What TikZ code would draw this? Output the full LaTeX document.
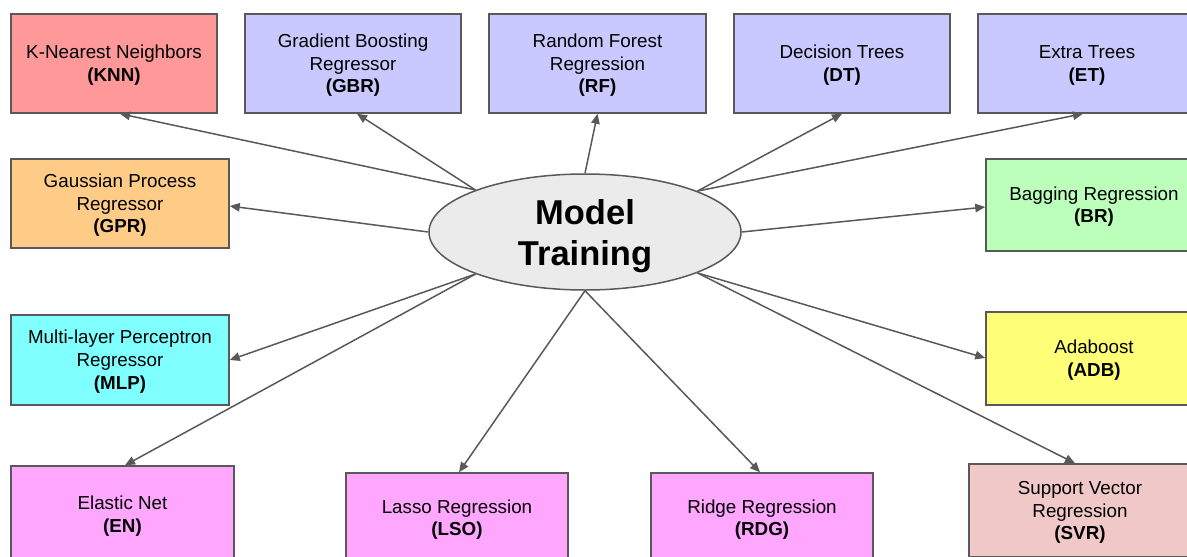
\documentclass[tikz,border=0pt]{standalone}
\usepackage{fontspec}
\setmainfont{Liberation Sans}
\usetikzlibrary{arrows.meta,shapes.geometric,calc}
\definecolor{edgegray}{HTML}{595959}
\definecolor{cKNN}{HTML}{FF9999}
\definecolor{cBlue}{HTML}{C9C9FF}
\definecolor{cGPR}{HTML}{FFCC88}
\definecolor{cBR}{HTML}{BBFFBB}
\definecolor{cMLP}{HTML}{80FFFF}
\definecolor{cADB}{HTML}{FFFF77}
\definecolor{cPink}{HTML}{FFA6FF}
\definecolor{cSVR}{HTML}{F0C8C8}
\definecolor{cMT}{HTML}{EBEBEB}
\newcommand{\boxtxt}[1]{\raisebox{-2pt}[\height][\depth]{\begin{tabular}{@{}c@{}}#1\end{tabular}}}
\tikzset{
  box/.style={draw=edgegray, line width=1.5pt, rectangle, inner sep=0pt,
    font=\fontsize{18.8}{22.7}\selectfont, text=black},
  hub/.style={draw=edgegray, line width=1.5pt, ellipse, fill=cMT, inner sep=0pt,
    minimum width=312pt, minimum height=116pt},
  hubtext/.style={align=center, inner sep=0pt, text=black,
    font=\fontsize{34.5}{41}\selectfont\bfseries},
  conn/.style={draw=edgegray, line width=1.5pt, -{Triangle[length=10pt,width=8.5pt]}}
}
\begin{document}
\begin{tikzpicture}[x=1pt,y=-1pt]
\clip (0,0) rectangle (1187,557);
\fill[white] (0,0) rectangle (1187,557);
% hub
\node[hub] (mt) at (585,232) {};
\node[hubtext] (mtl) at (585,236.5) {Model\\Training};
% top row
\node[box, fill=cKNN, minimum width=206pt, minimum height=99pt] (knn) at (114,63.5) {\boxtxt{K-Nearest Neighbors\\\textbf{(KNN)}}};
\node[box, fill=cBlue, minimum width=216pt, minimum height=99pt] (gbr) at (353,63.5) {\boxtxt{Gradient Boosting\\Regressor\\\textbf{(GBR)}}};
\node[box, fill=cBlue, minimum width=217pt, minimum height=99pt] (rf) at (597.5,63.5) {\boxtxt{Random Forest\\Regression\\\textbf{(RF)}}};
\node[box, fill=cBlue, minimum width=216pt, minimum height=99pt] (dt) at (842,63.5) {\boxtxt{Decision Trees\\\textbf{(DT)}}};
\node[box, fill=cBlue, minimum width=218pt, minimum height=99pt] (et) at (1087,63.5) {\boxtxt{Extra Trees\\\textbf{(ET)}}};
% middle rows
\node[box, fill=cGPR, minimum width=218pt, minimum height=89pt] (gpr) at (120,203.5) {\boxtxt{Gaussian Process\\Regressor\\\textbf{(GPR)}}};
\node[box, fill=cBR, minimum width=216pt, minimum height=92pt] (br) at (1094,205) {\boxtxt{Bagging Regression\\\textbf{(BR)}}};
\node[box, fill=cMLP, minimum width=218pt, minimum height=90pt] (mlp) at (120,360) {\boxtxt{Multi-layer Perceptron\\Regressor\\\textbf{(MLP)}}};
\node[box, fill=cADB, minimum width=216pt, minimum height=93pt] (adb) at (1094,358.5) {\boxtxt{Adaboost\\\textbf{(ADB)}}};
% bottom row
\node[box, fill=cPink, minimum width=223pt, minimum height=97pt] (en) at (122.5,514.5) {\boxtxt{Elastic Net\\\textbf{(EN)}}};
\node[box, fill=cPink, minimum width=222pt, minimum height=90pt] (lso) at (457,518) {\boxtxt{Lasso Regression\\\textbf{(LSO)}}};
\node[box, fill=cPink, minimum width=222pt, minimum height=90pt] (rdg) at (762,518) {\boxtxt{Ridge Regression\\\textbf{(RDG)}}};
\node[box, fill=cSVR, minimum width=222pt, minimum height=93pt] (svr) at (1080,510.5) {\boxtxt{Support Vector\\Regression\\\textbf{(SVR)}}};
% connectors
\draw[conn] (mt.159.6) -- ($(knn.south)+(6,0)$);
\draw[conn] (mt.159.6) -- ($(gbr.south)+(4,0)$);
\draw[conn] (mt.north) -- (rf.south);
\draw[conn] (mt.20.4) -- (dt.south);
\draw[conn] (mt.20.4) -- ($(et.south)+(-4,0)$);
\draw[conn] (mt.west) -- ($(gpr.east)+(0,2.5)$);
\draw[conn] (mt.east) -- ($(br.west)+(0,2)$);
\draw[conn] (mt.-159.6) -- (mlp.east);
\draw[conn] (mt.-159.6) -- ($(en.north)+(2.5,0)$);
\draw[conn] (mt.south) -- ($(lso.north)+(2,0)$);
\draw[conn] (mt.south) -- ($(rdg.north)+(-2,0)$);
\draw[conn] (mt.-20.4) -- ($(adb.west)+(0,-0.5)$);
\draw[conn] (mt.-20.4) -- ($(svr.north)+(-5,0)$);
\end{tikzpicture}
\end{document}
